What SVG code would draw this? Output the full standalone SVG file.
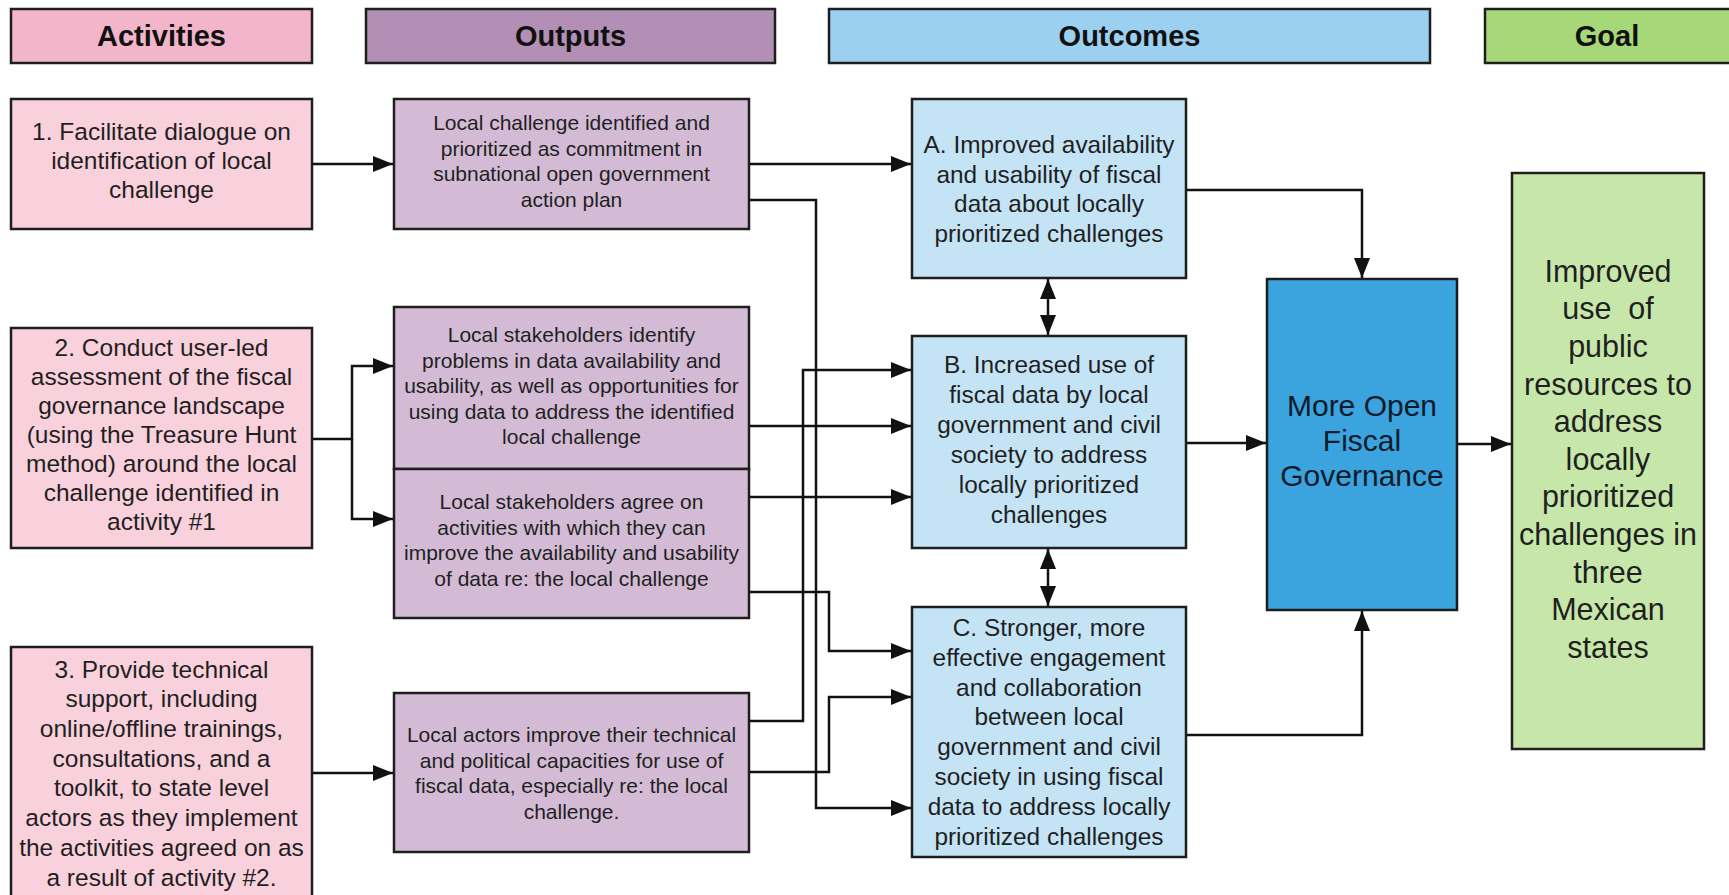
<svg xmlns="http://www.w3.org/2000/svg" width="1729" height="895" viewBox="0 0 1729 895">
<style>
.box{stroke:#1e1e1e;stroke-width:2.5}
.hA{fill:#F3B5C9}.hO{fill:#B38FB6}.hC{fill:#9BD0F0}.hG{fill:#A6D87A}
.act{fill:#F9D1DD}.out{fill:#D3BBD5}.oc{fill:#C4E4F6}.gov{fill:#3BA3DD}.goal{fill:#C7E7AA}
.t{font-family:"Liberation Sans",Arial,sans-serif;fill:#1f1f1f;text-anchor:middle}
.hdr{font-weight:bold;font-size:29px;fill:#111}
.ta{font-size:24.5px}.to{font-size:21px}.tc{font-size:24.4px}
.tg{font-size:30px;fill:#0f1b2b}.tgl{font-size:30.5px}
.conn{fill:none;stroke:#111;stroke-width:2.5}
</style>
<defs>
<marker id="ah" markerUnits="userSpaceOnUse" markerWidth="20" markerHeight="16" viewBox="0 0 20 16" refX="20" refY="8" orient="auto-start-reverse">
<path d="M0,0 L20,8 L0,16 z" fill="#111"/>
</marker>
</defs>

<g id="header-activities"><rect class="box hA" x="11" y="9" width="301" height="54"/><text class="t hdr" x="161.5" y="46">Activities</text></g>
<g id="header-outputs"><rect class="box hO" x="366" y="9" width="409" height="54"/><text class="t hdr" x="570.5" y="46">Outputs</text></g>
<g id="header-outcomes"><rect class="box hC" x="829" y="9" width="601" height="54"/><text class="t hdr" x="1129.5" y="46">Outcomes</text></g>
<g id="header-goal"><rect class="box hG" x="1485" y="9" width="260" height="54"/><text class="t hdr" x="1607" y="46">Goal</text></g>

<g id="connectors">
<path class="conn" marker-end="url(#ah)" d="M312,164 H393"/>
<path class="conn" marker-end="url(#ah)" d="M749,164 H911"/>
<path class="conn" marker-end="url(#ah)" d="M749,200 H816 V808 H911"/>
<path class="conn" marker-end="url(#ah)" d="M312,439 H352 V366 H393"/>
<path class="conn" marker-end="url(#ah)" d="M352,439 V519 H393"/>
<path class="conn" marker-end="url(#ah)" d="M749,426 H911"/>
<path class="conn" marker-end="url(#ah)" d="M749,497 H911"/>
<path class="conn" marker-end="url(#ah)" d="M749,592 H829 V651 H911"/>
<path class="conn" marker-end="url(#ah)" d="M312,773 H393"/>
<path class="conn" marker-end="url(#ah)" d="M749,721 H803 V370 H911"/>
<path class="conn" marker-end="url(#ah)" d="M749,772 H829 V697 H911"/>
<path class="conn" marker-start="url(#ah)" marker-end="url(#ah)" d="M1048,279 V335"/>
<path class="conn" marker-start="url(#ah)" marker-end="url(#ah)" d="M1048,549 V606"/>
<path class="conn" marker-end="url(#ah)" d="M1186,190 H1362 V278"/>
<path class="conn" marker-end="url(#ah)" d="M1186,443 H1266"/>
<path class="conn" marker-end="url(#ah)" d="M1186,735 H1362 V611"/>
<path class="conn" marker-end="url(#ah)" d="M1457,444 H1511"/>
</g>

<g id="activity-1"><rect class="box act" x="11" y="99" width="301" height="130"/>
<text class="t ta" x="161.5" y="140"><tspan x="161.5">1. Facilitate dialogue on</tspan><tspan x="161.5" dy="29">identification of local</tspan><tspan x="161.5" dy="29">challenge</tspan></text></g>

<g id="activity-2"><rect class="box act" x="11" y="328" width="301" height="220"/>
<text class="t ta" x="161.5" y="355.6"><tspan x="161.5">2. Conduct user-led</tspan><tspan x="161.5" dy="29">assessment of the fiscal</tspan><tspan x="161.5" dy="29">governance landscape</tspan><tspan x="161.5" dy="29">(using the Treasure Hunt</tspan><tspan x="161.5" dy="29">method) around the local</tspan><tspan x="161.5" dy="29">challenge identified in</tspan><tspan x="161.5" dy="29">activity #1</tspan></text></g>

<g id="activity-3"><rect class="box act" x="11" y="647" width="301" height="270"/>
<text class="t ta" x="161.5" y="677.6"><tspan x="161.5">3. Provide technical</tspan><tspan x="161.5" dy="29.7">support, including</tspan><tspan x="161.5" dy="29.7">online/offline trainings,</tspan><tspan x="161.5" dy="29.7">consultations, and a</tspan><tspan x="161.5" dy="29.7">toolkit, to state level</tspan><tspan x="161.5" dy="29.7">actors as they implement</tspan><tspan x="161.5" dy="29.7">the activities agreed on as</tspan><tspan x="161.5" dy="29.7">a result of activity #2.</tspan></text></g>

<g id="output-1"><rect class="box out" x="394" y="99" width="355" height="130"/>
<text class="t to" x="571.5" y="130"><tspan x="571.5">Local challenge identified and</tspan><tspan x="571.5" dy="25.5">prioritized as commitment in</tspan><tspan x="571.5" dy="25.5">subnational open government</tspan><tspan x="571.5" dy="25.5">action plan</tspan></text></g>

<g id="output-2"><rect class="box out" x="394" y="307" width="355" height="162"/>
<text class="t to" x="571.5" y="342.4"><tspan x="571.5">Local stakeholders identify</tspan><tspan x="571.5" dy="25.5">problems in data availability and</tspan><tspan x="571.5" dy="25.5">usability, as well as opportunities for</tspan><tspan x="571.5" dy="25.5">using data to address the identified</tspan><tspan x="571.5" dy="25.5">local challenge</tspan></text></g>

<g id="output-3"><rect class="box out" x="394" y="469" width="355" height="149"/>
<text class="t to" x="571.5" y="509"><tspan x="571.5">Local stakeholders agree on</tspan><tspan x="571.5" dy="25.5">activities with which they can</tspan><tspan x="571.5" dy="25.5">improve the availability and usability</tspan><tspan x="571.5" dy="25.5">of data re: the local challenge</tspan></text></g>

<g id="output-4"><rect class="box out" x="394" y="693" width="355" height="159"/>
<text class="t to" x="571.5" y="742"><tspan x="571.5">Local actors improve their technical</tspan><tspan x="571.5" dy="25.5">and political capacities for use of</tspan><tspan x="571.5" dy="25.5">fiscal data, especially re: the local</tspan><tspan x="571.5" dy="25.5">challenge.</tspan></text></g>

<g id="outcome-a"><rect class="box oc" x="912" y="99" width="274" height="179"/>
<text class="t tc" x="1049" y="153"><tspan x="1049">A. Improved availability</tspan><tspan x="1049" dy="29.5">and usability of fiscal</tspan><tspan x="1049" dy="29.5">data about locally</tspan><tspan x="1049" dy="29.5">prioritized challenges</tspan></text></g>

<g id="outcome-b"><rect class="box oc" x="912" y="336" width="274" height="212"/>
<text class="t tc" x="1049" y="372.5"><tspan x="1049">B. Increased use of</tspan><tspan x="1049" dy="30">fiscal data by local</tspan><tspan x="1049" dy="30">government and civil</tspan><tspan x="1049" dy="30">society to address</tspan><tspan x="1049" dy="30">locally prioritized</tspan><tspan x="1049" dy="30">challenges</tspan></text></g>

<g id="outcome-c"><rect class="box oc" x="912" y="607" width="274" height="250"/>
<text class="t tc" x="1049" y="636"><tspan x="1049">C. Stronger, more</tspan><tspan x="1049" dy="29.8">effective engagement</tspan><tspan x="1049" dy="29.8">and collaboration</tspan><tspan x="1049" dy="29.8">between local</tspan><tspan x="1049" dy="29.8">government and civil</tspan><tspan x="1049" dy="29.8">society in using fiscal</tspan><tspan x="1049" dy="29.8">data to address locally</tspan><tspan x="1049" dy="29.8">prioritized challenges</tspan></text></g>

<g id="more-open-fiscal-governance"><rect class="box gov" x="1267" y="279" width="190" height="331"/>
<text class="t tg" x="1362" y="415.5"><tspan x="1362">More Open</tspan><tspan x="1362" dy="35">Fiscal</tspan><tspan x="1362" dy="35">Governance</tspan></text></g>

<g id="goal"><rect class="box goal" x="1512" y="173" width="192" height="576"/>
<text class="t tgl" x="1608" y="281.7" xml:space="preserve"><tspan x="1608">Improved</tspan><tspan x="1608" dy="37.6">use  of</tspan><tspan x="1608" dy="37.6">public</tspan><tspan x="1608" dy="37.6">resources to</tspan><tspan x="1608" dy="37.6">address</tspan><tspan x="1608" dy="37.6">locally</tspan><tspan x="1608" dy="37.6">prioritized</tspan><tspan x="1608" dy="37.6">challenges in</tspan><tspan x="1608" dy="37.6">three</tspan><tspan x="1608" dy="37.6">Mexican</tspan><tspan x="1608" dy="37.6">states</tspan></text></g>
</svg>
